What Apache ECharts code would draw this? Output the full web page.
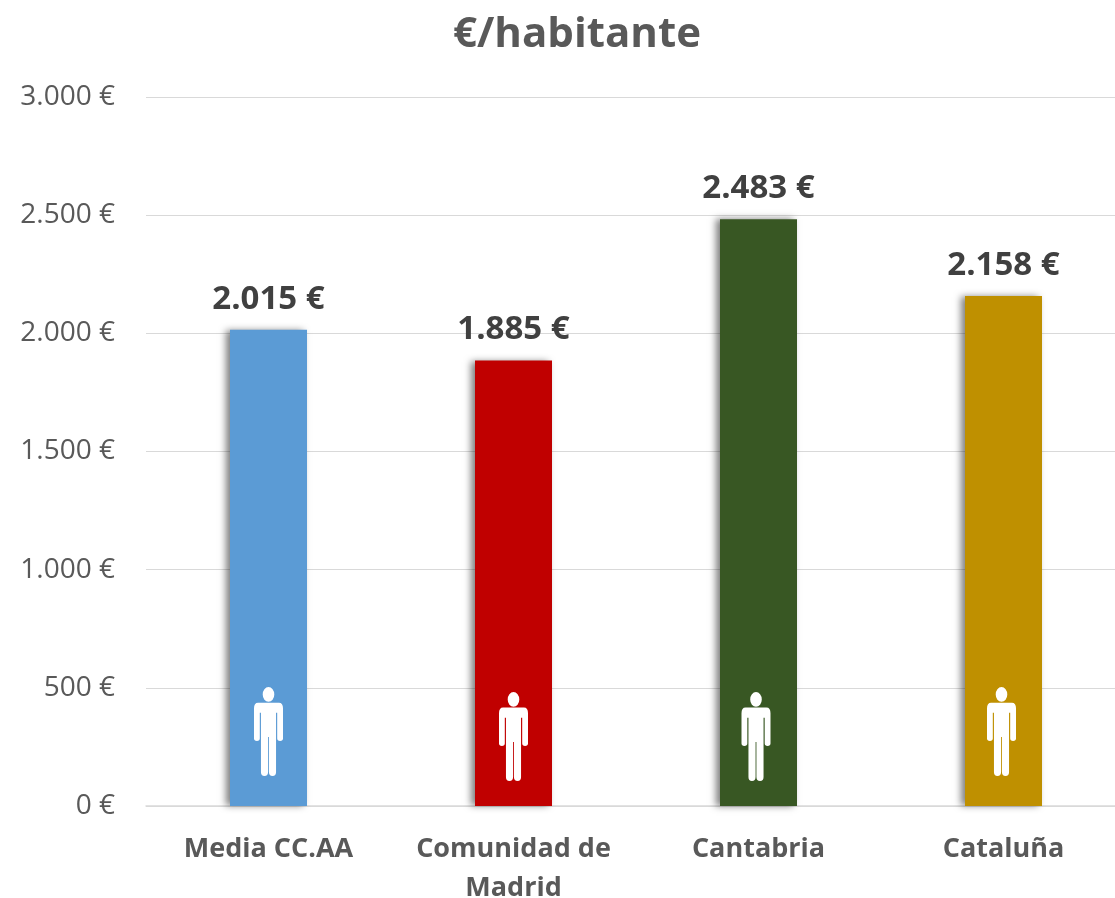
<!DOCTYPE html>
<html><head><meta charset="utf-8">
<style>html,body{margin:0;padding:0;background:#fff}#c{width:1115px;height:898px}</style>
<script src="https://cdn.jsdelivr.net/npm/echarts@6/dist/echarts.min.js"></script>
</head><body><div id="c"></div>
<script>
const categories = ['Media CC.AA', 'Comunidad de\nMadrid', 'Cantabria', 'Cataluña'];
const values = [2015, 1885, 2483, 2158];
const colors = ['#5B9BD5', '#C00000', '#385723', '#BF9000'];
const iconTopValues = [503, 482, 482, 503];
const iconShifts = [0, 0, -2.5, -2];
const personPath = 'path://M50 0A20 18 0 1 1 50 36A20 18 0 1 1 50 0ZM14 38H86Q100 38 100 52V126Q100 132 90 132Q80 132 80 126V63H76V208Q76 218 64 218Q51.5 218 51.5 208V122H48.5V208Q48.5 218 36 218Q24 218 24 208V63H20V126Q20 132 10 132Q0 132 0 126V52Q0 38 14 38Z';
const fmt = v => v.toString().replace(/\B(?=(\d{3})+$)/g, '.') + ' €';
const chart = echarts.init(document.getElementById('c'));
chart.setOption({
  animation: false,
  title: {text: '€/habitante', left: 448, top: 9, textStyle: {fontFamily: 'Open Sans', fontSize: 42, fontWeight: 'bold', color: '#595959'}},
  grid: {left: 146, right: -11, top: 97, bottom: 92, outerBoundsMode: 'none'},
  xAxis: {type: 'category', data: categories,
    axisLine: {lineStyle: {color: '#D9D9D9', width: 1.5}}, axisTick: {show: false},
    axisLabel: {margin: 24, lineHeight: 39, fontFamily: 'Open Sans', fontSize: 27, fontWeight: 'bold', color: '#595959', interval: 0}},
  yAxis: {type: 'value', min: 0, max: 3000, interval: 500,
    axisLine: {show: false}, axisTick: {show: false},
    splitLine: {lineStyle: {color: '#D9D9D9', width: 1.2}},
    axisLabel: {margin: 31, padding: [4, 0, 0, 0], formatter: fmt, fontFamily: 'Open Sans', fontSize: 28, color: '#595959'}},
  series: [{
    type: 'bar', barWidth: 77, z: 2,
    data: values.map((v, i) => ({value: v, itemStyle: {color: colors[i]}})),
    itemStyle: {shadowColor: 'rgba(0,0,0,0.5)', shadowBlur: 7, shadowOffsetX: -4},
    label: {show: true, position: 'top', distance: 14, formatter: p => fmt(p.value), fontFamily: 'Open Sans', fontSize: 33, fontWeight: 'bold', color: '#404040'}
  }, {
    type: 'pictorialBar', z: 3, silent: true, symbol: personPath,
    symbolSize: [29, 89], symbolPosition: 'end', barGap: '-100%', symbolKeepAspect: false,
    data: iconTopValues.map((v, i) => ({value: v, symbolOffset: [iconShifts[i], 0]})),
    itemStyle: {color: '#fff'}
  }]
});
</script></body></html>
